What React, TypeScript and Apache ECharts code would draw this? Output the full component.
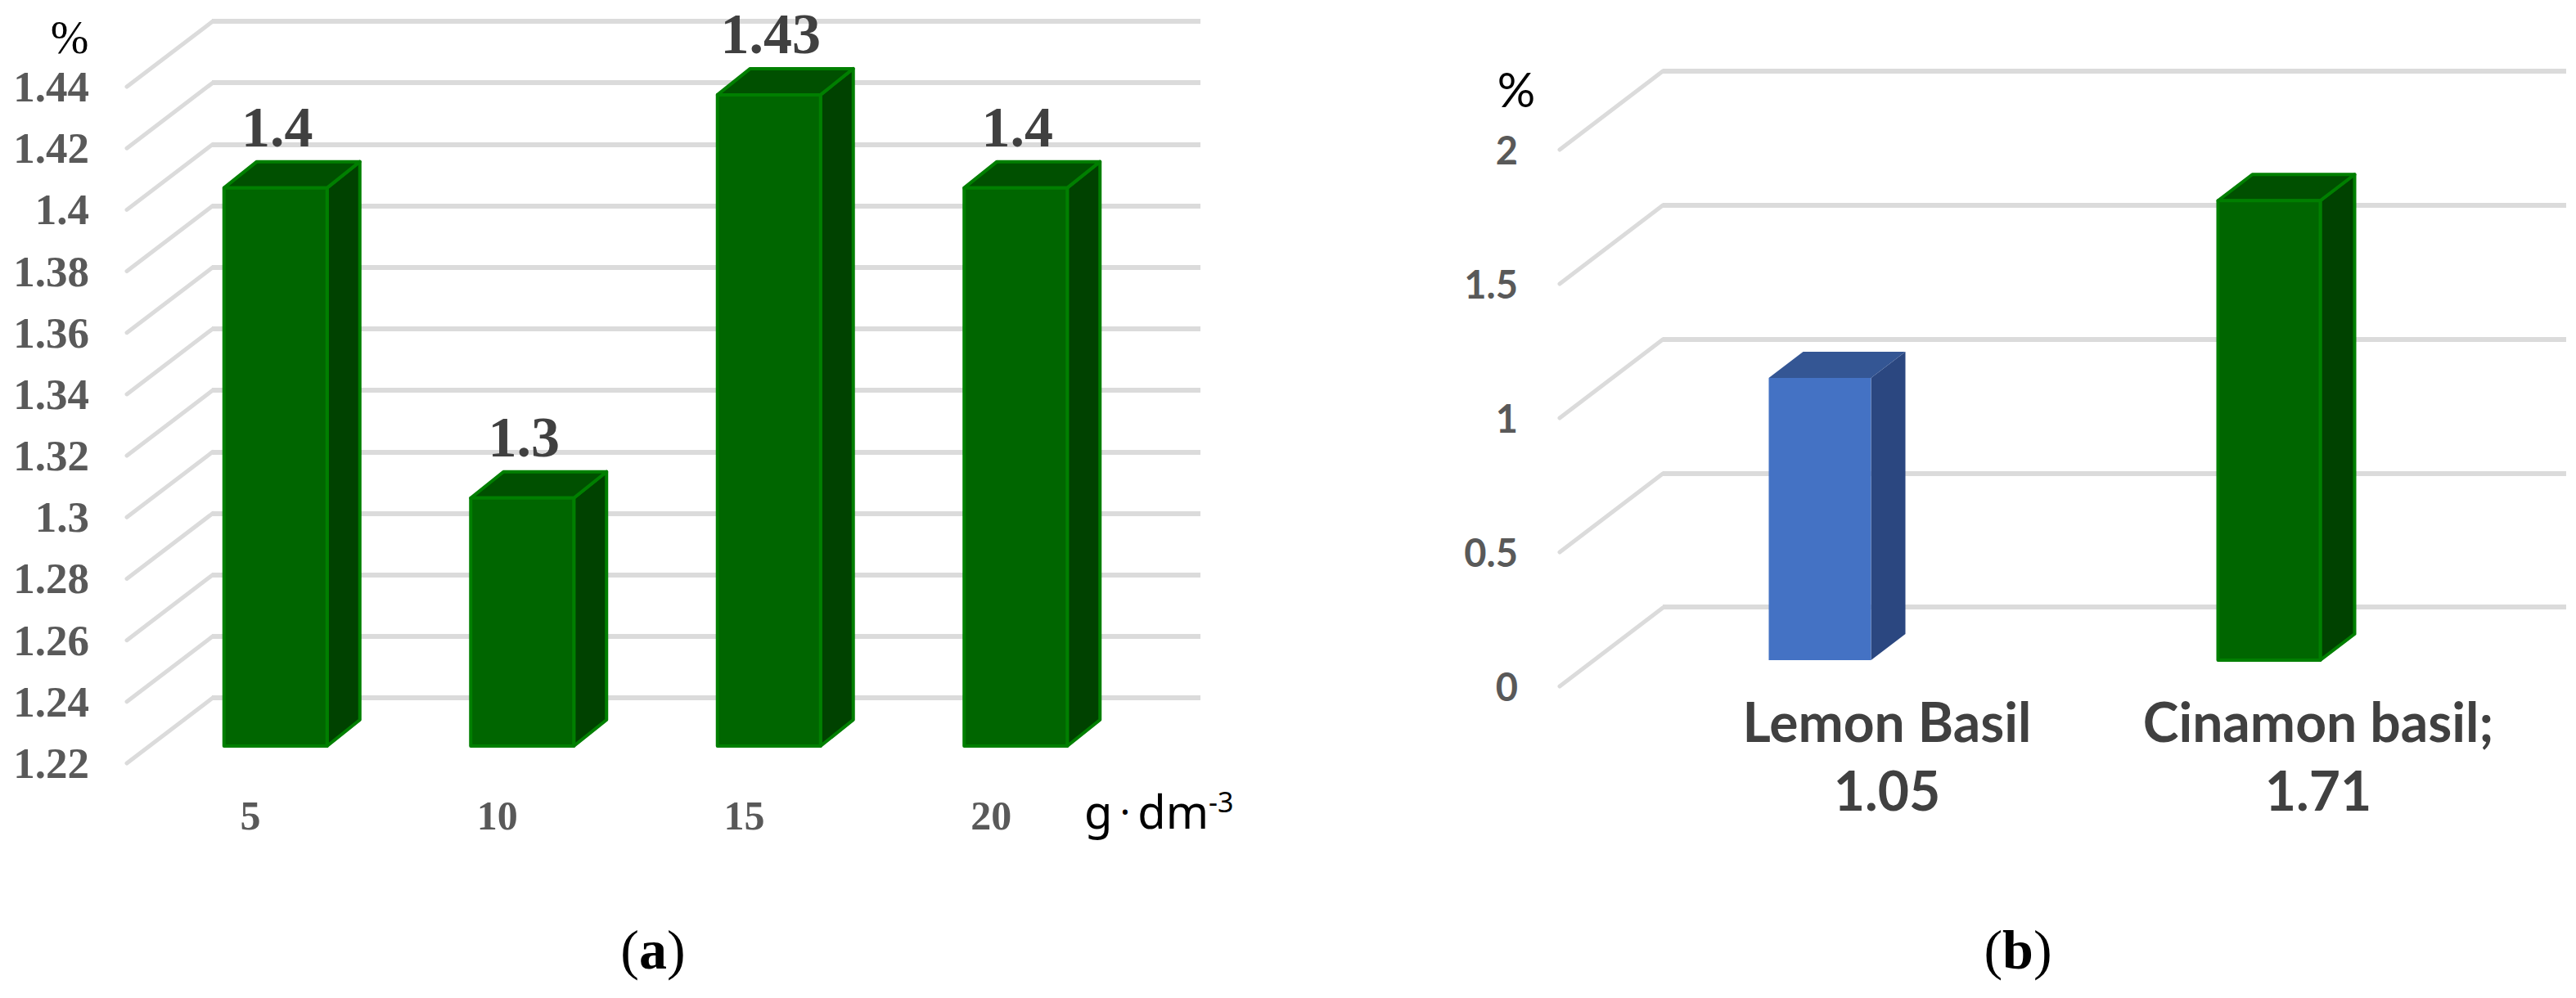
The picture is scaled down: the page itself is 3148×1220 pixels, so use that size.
import React, { useEffect, useRef } from "react";
import * as echarts from "echarts";

const concentrationCategories = ["5", "10", "15", "20"];
const concentrationValues = [1.4, 1.3, 1.43, 1.4];
const concentrationTicks = [1.22, 1.24, 1.26, 1.28, 1.3, 1.32, 1.34, 1.36, 1.38, 1.4, 1.42, 1.44];
const basilCategories = ["Lemon Basil", "Cinamon basil;"];
const basilValues = [1.05, 1.71];
const basilTicks = [0, 0.5, 1, 1.5, 2];

const SERIF = '"Liberation Serif"';
const SANS = "Lato";
const GRID = "#dbdbdb";
const GREEN = { front: "#006600", top: "#005000", side: "#004200", edge: "#007f00", edgeWidth: 4 };
const BLUE = { front: "#4472c4", top: "#345694", side: "#2b4780", edge: "none", edgeWidth: 0 };

function barRenderer(dx: number, dy: number, width: number, palettes: any[], label: boolean) {
  return (params: any, api: any) => {
    const i = api.value(0);
    const v = api.value(1);
    const [cx, top] = api.coord([i, v]);
    const [, base] = api.coord([i, api.value(2)]);
    const l = cx - width / 2;
    const r = cx + width / 2;
    const p = palettes[i % palettes.length];
    const stroke = { stroke: p.edge, lineWidth: p.edgeWidth, lineJoin: "round" };
    const children: any[] = [
      { type: "polygon", shape: { points: [[r, top], [r + dx, top - dy], [r + dx, base - dy], [r, base]] }, style: { fill: p.side, ...stroke } },
      { type: "polygon", shape: { points: [[l, top], [l + dx, top - dy], [r + dx, top - dy], [r, top]] }, style: { fill: p.top, ...stroke } },
      { type: "rect", shape: { x: l, y: top, width, height: base - top }, style: { fill: p.front, ...stroke } },
    ];
    if (label) {
      children.push({
        type: "text",
        style: {
          text: String(v), x: cx + 2, y: top - 39, textAlign: "center", textVerticalAlign: "bottom",
          font: `bold 70px ${SERIF}`, fill: "#404040",
        },
      });
    }
    return { type: "group", children };
  };
}

function diagonalRenderer(dx: number, dy: number) {
  return (params: any, api: any) => {
    const y = api.coord([0, api.value(1)])[1];
    const x = params.coordSys.x;
    return {
      type: "line",
      shape: { x1: x, y1: y, x2: x + dx, y2: y - dy },
      style: { stroke: GRID, lineWidth: 5, lineCap: "round" },
    };
  };
}

const hiddenX = (gridIndex: number, data: string[]) => ({
  type: "category" as const, gridIndex, data, show: false,
});
const hiddenY = (gridIndex: number, min: number, max: number, interval: number, split = false) => ({
  type: "value" as const, gridIndex, min, max, interval,
  axisLine: { show: false }, axisTick: { show: false }, axisLabel: { show: false },
  splitLine: { show: split, lineStyle: { color: GRID, width: 6 } },
});

export default function App() {
  const ref = useRef<HTMLDivElement>(null);
  useEffect(() => {
    document.body.style.margin = "0";
    const chart = echarts.init(ref.current!, null, { renderer: "svg" });
    chart.setOption({
      animation: false,
      backgroundColor: "#ffffff",
      grid: [
        { left: 259, top: 26, width: 1208, height: 827 },
        { left: 155, top: 106, width: 1207, height: 827 },
        { left: 186, top: 78, width: 1206, height: 834 },
        { left: 2032, top: 87, width: 1104, height: 655 },
        { left: 1906, top: 183, width: 1100, height: 656 },
        { left: 1949.5, top: 150, width: 1098, height: 657 },
        { left: 2042.5, top: 183, width: 1054, height: 656 },
      ],
      xAxis: [
        hiddenX(0, concentrationCategories),
        {
          type: "category", gridIndex: 1, data: concentrationCategories,
          axisLine: { show: false }, axisTick: { show: false },
          axisLabel: { interval: 0, margin: 39, fontFamily: SERIF, fontWeight: "bold", fontSize: 50, color: "#595959" },
        },
        hiddenX(2, concentrationCategories),
        hiddenX(3, basilCategories),
        hiddenX(4, basilCategories),
        hiddenX(5, basilCategories),
        {
          type: "category", gridIndex: 6, data: basilCategories,
          axisLine: { show: false }, axisTick: { show: false },
          axisLabel: {
            interval: 0, hideOverlap: false,
            margin: 0, fontFamily: SANS, fontWeight: "bold", fontSize: 66, color: "#404040", lineHeight: 84,
            formatter: (name: string) => `${name}\n${basilValues[basilCategories.indexOf(name)]}`,
          },
        },
      ],
      yAxis: [
        hiddenY(0, 1.22, 1.44, 0.02, true),
        {
          type: "value", gridIndex: 1, min: 1.22, max: 1.44, interval: 0.02,
          axisLine: { show: false }, axisTick: { show: false }, splitLine: { show: false },
          axisLabel: {
            margin: 46, fontFamily: SERIF, fontWeight: "bold", fontSize: 53, color: "#595959", padding: [0, 0, 6, 0],
            formatter: (v: number) => String(+v.toFixed(2)),
          },
        },
        hiddenY(2, 1.22, 1.44, 0.02),
        hiddenY(3, 0, 2, 0.5, true),
        {
          type: "value", gridIndex: 4, min: 0, max: 2, interval: 0.5,
          axisLine: { show: false }, axisTick: { show: false }, splitLine: { show: false },
          axisLabel: {
            margin: 51, fontFamily: SANS, fontWeight: "bold", fontSize: 47, color: "#595959", padding: [0, 0, 8, 0],
            formatter: (v: number) => String(v),
          },
        },
        hiddenY(5, 0, 2, 0.5),
        hiddenY(6, 0, 2, 0.5),
      ],
      series: [
        {
          type: "custom", xAxisIndex: 1, yAxisIndex: 1, z: 1, silent: true,
          data: concentrationTicks.map((t) => [0, t]),
          renderItem: diagonalRenderer(105, 80), clip: false,
        },
        {
          type: "custom", xAxisIndex: 4, yAxisIndex: 4, z: 1, silent: true,
          data: basilTicks.map((t) => [0, t]),
          renderItem: diagonalRenderer(126, 96), clip: false,
        },
        {
          type: "custom", xAxisIndex: 2, yAxisIndex: 2, z: 5, silent: true, clip: false,
          data: concentrationValues.map((v, i) => [i, v, 1.22]),
          renderItem: barRenderer(40, 32, 126, [GREEN], true),
        },
        {
          type: "custom", xAxisIndex: 5, yAxisIndex: 5, z: 5, silent: true, clip: false,
          data: basilValues.map((v, i) => [i, v, 0]),
          renderItem: barRenderer(42, 32, 125, [BLUE, GREEN], false),
        },
      ],
      graphic: [
        { type: "text", x: 85, y: 46, z: 10, style: { text: "%", textAlign: "center", textVerticalAlign: "middle", font: `56px ${SERIF}`, fill: "#000" } },
        { type: "text", x: 1853, y: 108, z: 10, style: { text: "%", textAlign: "center", textVerticalAlign: "middle", font: `58px ${SANS}`, fill: "#000" } },
        {
          type: "text", x: 1325, y: 991, z: 10,
          style: {
            text: "{u|g}{d|·}{u|dm}{s|-3}", textAlign: "left", textVerticalAlign: "middle", fill: "#000",
            rich: {
              u: { font: '56px "Noto Sans"', fill: "#000" },
              d: { font: '48px "Noto Sans"', fill: "#000", padding: [0, 9] },
              s: { font: '34px "Noto Sans"', fill: "#000", verticalAlign: "top" },
            },
          },
        },
        {
          type: "text", x: 798, y: 1161, z: 10,
          style: {
            text: "{p|(}{b|a}{p|)}", textAlign: "center", textVerticalAlign: "middle", fill: "#000",
            rich: { p: { font: `68px ${SERIF}`, fill: "#000" }, b: { font: `bold 68px ${SERIF}`, fill: "#000" } },
          },
        },
        {
          type: "text", x: 2466, y: 1161, z: 10,
          style: {
            text: "{p|(}{b|b}{p|)}", textAlign: "center", textVerticalAlign: "middle", fill: "#000",
            rich: { p: { font: `68px ${SERIF}`, fill: "#000" }, b: { font: `bold 68px ${SERIF}`, fill: "#000" } },
          },
        },
      ],
    });
    return () => chart.dispose();
  }, []);
  return <div ref={ref} style={{ position: "absolute", left: 0, top: 0, width: 3148, height: 1220 }} />;
}
